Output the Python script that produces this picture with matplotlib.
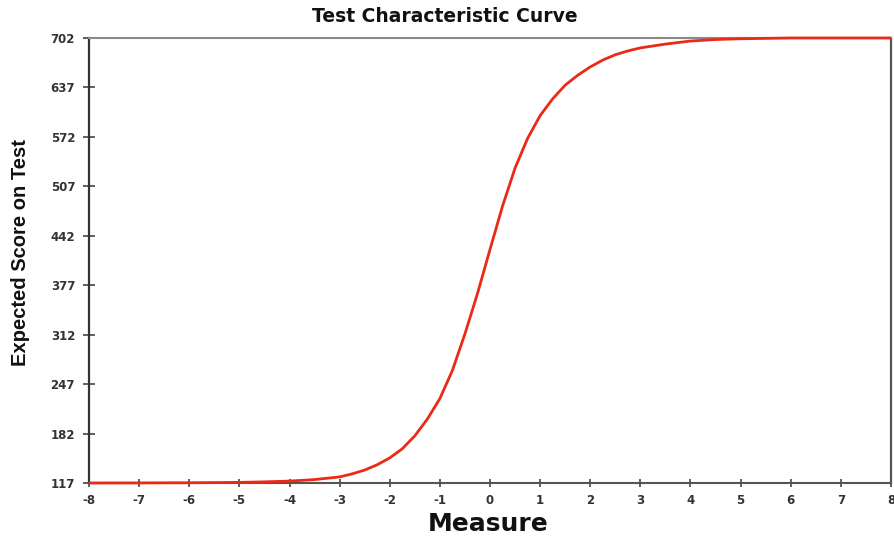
import matplotlib
matplotlib.use("Agg")
import matplotlib.pyplot as plt

# Data
measure = [-8, -7, -6, -5, -4.5, -4, -3.5, -3, -2.75, -2.5, -2.25, -2, -1.75, -1.5,
           -1.25, -1, -0.75, -0.5, -0.25, 0, 0.25, 0.5, 0.75, 1, 1.25, 1.5, 1.75,
           2, 2.25, 2.5, 2.75, 3, 3.5, 4, 4.5, 5, 6, 7, 8]
expected_score = [117, 117.1, 117.3, 117.8, 118.5, 119.5, 121.5, 125, 129, 134, 141,
                  150, 162, 179, 201, 228, 265, 313, 366, 424, 481, 531, 570, 600,
                  622, 640, 653, 664, 673, 680, 685, 689, 694, 698, 700, 701, 702,
                  702, 702]
x_ticks = list(range(-8, 9))
y_ticks = [117, 182, 247, 312, 377, 442, 507, 572, 637, 702]

title = "Test Characteristic Curve"
x_label = "Measure"
y_label = "Expected Score on Test"

fig = plt.figure(figsize=(8.95, 5.38), dpi=100)
ax = fig.add_axes([89 / 895, 1 - 483 / 538, (891 - 89) / 895, (483 - 38) / 538])

ax.plot(measure, expected_score, color="#ea2a16", linewidth=2.0, zorder=5,
        clip_on=False, solid_capstyle="butt", solid_joinstyle="round")

ax.set_xlim(-8, 8)
ax.set_ylim(117, 702)
ax.set_xticks(x_ticks)
ax.set_yticks(y_ticks)
ax.set_xticklabels([str(v) for v in x_ticks])
ax.set_yticklabels([str(v) for v in y_ticks])

for lab in ax.get_xticklabels() + ax.get_yticklabels():
    lab.set_fontfamily("DejaVu Sans")
    lab.set_fontweight("bold")
    lab.set_fontsize(8.5)
    lab.set_color("#333333")

ax.tick_params(axis="y", direction="inout", length=8, width=1.2, color="#444444", pad=6)
ax.tick_params(axis="x", direction="inout", length=6, width=1.2, color="#444444", pad=5)

ax.spines["left"].set_color("#333333")
ax.spines["left"].set_linewidth(1.6)
ax.spines["bottom"].set_color("#555555")
ax.spines["bottom"].set_linewidth(1.5)
ax.spines["top"].set_color("#8a8a8a")
ax.spines["top"].set_linewidth(1.5)
ax.spines["right"].set_color("#555555")
ax.spines["right"].set_linewidth(1.6)

fig.text(445 / 895, 1 - 16 / 538, title, ha="center", va="center",
         fontfamily="DejaVu Sans", fontweight="bold", fontsize=13.5, color="#111111")
fig.text(488 / 895, 1 - 524 / 538, x_label, ha="center", va="center",
         fontfamily="DejaVu Sans", fontweight="bold", fontsize=18, color="#111111")
fig.text(21 / 895, 1 - 253 / 538, y_label, ha="center", va="center", rotation=90,
         fontfamily=["Liberation Sans Narrow", "Liberation Sans"], fontweight="bold",
         fontsize=14.5, color="#111111")

fig.savefig("out.png", dpi=100)
